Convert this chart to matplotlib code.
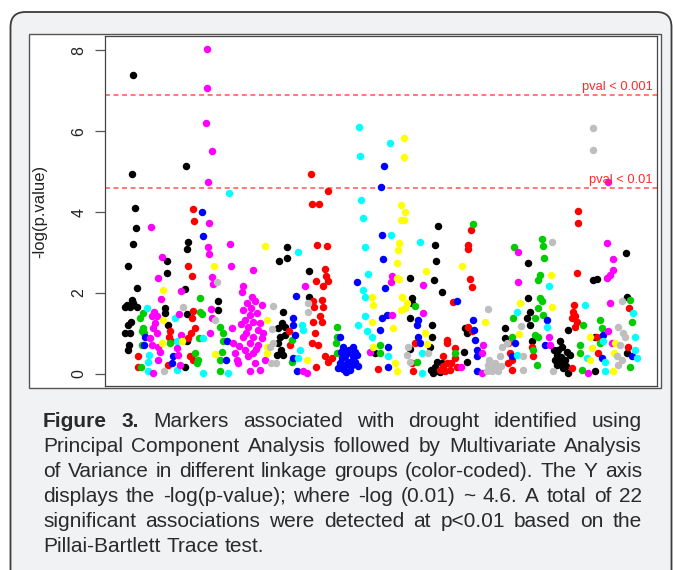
import matplotlib
matplotlib.use("Agg")
import matplotlib.pyplot as plt
from matplotlib import font_manager
from matplotlib.patches import FancyBboxPatch, Rectangle
from matplotlib.transforms import IdentityTransform

# ---------------- data: marker position along genome, -log(p-value) ----------------
black_pos = [28, 27, 81, 30, 31, 28, 23, 32, 27, 22, 20, 25, 32, 28, 26, 23, 20, 25, 24, 23,
             62, 62, 83, 82, 80, 60, 60, 63, 82, 113, 113, 80, 82,
             182, 182, 174, 204, 204, 178, 177, 173, 180, 175, 180, 173, 176, 178, 172,
             333, 330, 331, 329, 337, 305, 307, 307, 305, 327, 327, 325, 305, 360, 362, 359, 362,
             400, 400, 330, 333, 328, 337, 332, 270, 335, 331, 326,
             423, 521, 488, 492, 423, 425, 422, 425, 427, 463, 455, 453, 457, 452, 450, 455, 460,
             465, 463, 452, 490, 490, 522, 522, 458, 462, 449, 456, 461]
black_val = [7.38, 4.94, 5.13, 4.10, 3.61, 3.20, 2.67, 2.13, 1.83, 1.70, 1.66, 1.66, 1.65, 1.74,
             1.27, 1.21, 1.00, 1.02, 0.72, 0.59,
             2.79, 2.50, 3.27, 3.08, 2.10, 1.64, 1.50, 1.21, 1.48, 1.79, 1.58, 0.18, 0.82,
             3.13, 2.87, 2.80, 2.54, 1.89, 1.54, 1.25, 1.13, 1.17, 0.92, 0.96, 0.76, 0.59, 0.47, 0.47,
             3.65, 3.19, 2.79, 2.32, 2.02, 2.36, 1.87, 1.74, 1.39, 1.21, 0.92, 0.67, 0.61, 1.13, 1.00,
             0.53, 0.30, 1.13, 0.88, 0.18, 0.06, 0.02, 0.26, 0.30, 0.51, 0.05, 0.12, 0.10,
             2.75, 2.98, 2.32, 2.34, 1.87, 1.54, 1.37, 1.21, 0.80, 1.09, 0.80, 0.59, 0.67, 0.47, 0.35,
             0.26, 0.35, 0.47, 0.03, 0.22, 0.92, 0.06, 1.91, 0.51, 0.15, 0.55, 0.60, 0.42, 0.20]

red_pos = [206, 223, 88, 89, 83, 87, 88, 87, 90, 86, 65, 64, 66, 33, 33, 63, 85, 88, 83,
           207, 214, 212, 222, 220, 221, 211, 223, 218, 208, 209, 217, 218, 215, 217, 208, 210,
           207, 213, 220, 223, 211, 227, 184, 185,
           366, 363, 363, 365, 367, 348, 342, 342, 350, 338, 342, 345, 340, 335, 352, 307, 308,
           363, 367, 273, 310, 403, 405, 403, 346, 350, 338,
           473, 473, 472, 469, 468, 470, 467, 472, 470, 524, 523, 427, 428, 407, 407, 467, 493, 492]
red_val = [4.94, 4.52, 4.07, 3.79, 2.67, 2.42, 1.56, 1.37, 1.13, 1.00, 1.05, 0.92, 0.80, 0.43,
           0.18, 0.22, 0.43, 0.35, 0.88,
           4.21, 4.21, 3.19, 3.16, 2.58, 2.42, 2.30, 2.30, 2.16, 1.79, 1.66, 1.83, 1.66, 1.42, 1.29,
           1.29, 1.00, 0.76, 0.72, 0.43, 0.30, 0.16, 0.39, 1.05, 0.72,
           3.56, 3.19, 3.08, 2.34, 2.14, 1.77, 0.84, 0.76, 0.63, 0.43, 0.26, 0.10, 0.06, 0.10, 0.18,
           0.26, 0.06, 1.17, 1.05, 0.12, 0.76, 0.76, 0.51, 0.26, 0.28, 0.40, 0.20,
           4.03, 3.72, 2.49, 1.70, 1.54, 1.42, 1.37, 1.29, 1.17, 1.62, 0.67, 0.67, 0.43, 0.35, 0.10,
           0.14, 0.51, 0.92]

green_pos = [35, 38, 38, 37, 39, 37, 36, 95, 97, 95, 65, 90, 93, 92, 94, 115, 118, 117, 115, 115, 118,
             232, 232, 231, 232, 187, 187,
             368, 310, 350, 312, 275, 275, 407,
             409, 437, 438, 439, 435, 433, 435, 437, 433, 438, 430, 408, 430, 433, 428, 432,
             478, 495, 497, 495, 475, 475, 477, 525, 527, 525]
green_val = [1.37, 1.51, 1.13, 1.05, 1.00, 0.72, 0.18, 1.87, 1.48, 1.54, 0.76, 0.51, 0.35, 0.26, 0.88,
             1.17, 0.80, 0.55, 0.35, 0.06, 1.00,
             1.17, 0.92, 0.76, 0.51, 0.84, 0.30,
             3.70, 1.68, 0.51, 0.30, 0.72, 0.51, 0.92,
             3.14, 3.33, 3.16, 2.87, 2.44, 2.32, 1.87, 1.79, 1.62, 1.46, 1.37, 1.39, 0.96, 0.92, 0.59,
             0.22, 1.21, 1.33, 1.13, 0.76, 0.72, 0.51, 0.10, 1.83, 1.29, 0.18]

blue_pos = [279, 276, 97, 98, 40, 39, 68, 67, 121, 122,
            191, 252, 188, 188, 190, 235, 238, 248, 252, 242, 243, 240, 237, 245, 248, 235, 192, 188,
            240, 246, 250, 238, 236, 244, 250, 241, 247, 233, 253,
            277, 278, 280, 282, 277, 275, 352, 313, 312, 313, 315, 283, 283, 368, 369, 370, 372, 372,
            372, 407,
            442, 410, 440, 498, 497, 527]
blue_val = [5.14, 4.62, 4.00, 3.41, 0.90, 0.72, 0.44, 0.26, 0.35, 0.81,
            1.93, 2.26, 1.37, 1.21, 0.96, 0.92, 0.67, 0.67, 0.47, 0.51, 0.30, 0.22, 0.39, 0.10, 0.43,
            0.26, 0.06, 0.39, 0.45, 0.20, 0.30, 0.12, 0.55, 0.60, 0.55, 0.05, 0.32, 0.15, 0.20,
            3.42, 2.83, 2.12, 1.46, 1.37, 1.09, 1.79, 1.33, 1.21, 0.92, 0.76, 0.67, 0.16, 1.33, 1.09,
            0.84, 0.59, 0.43, 0.06, 0.43,
            1.33, 0.76, 0.72, 0.96, 0.39, 0.43]

cyan_pos = [124, 254, 255, 285, 256, 42, 70, 44, 43, 43, 72, 98, 98, 123, 72,
            193, 258, 260, 263, 258, 260, 197, 198, 195, 193, 253, 260, 262, 267,
            286, 315, 283, 317, 317,
            444, 480, 412, 442, 528, 530, 530, 532, 500, 500, 482, 412, 498]
cyan_val = [4.47, 6.10, 5.38, 5.70, 4.30, 1.64, 1.37, 0.47, 0.30, 0.06, 0.80, 0.88, 0.03, 0.03, 0.10,
            3.00, 3.84, 3.14, 2.46, 2.07, 1.91, 1.21, 1.09, 0.59, 0.39, 1.21, 1.42, 1.05, 0.92,
            3.42, 3.27, 0.43, 0.51, 0.02,
            2.16, 1.69, 1.54, 1.17, 1.50, 0.90, 0.59, 0.39, 0.30, 0.06, 0.39, 0.47, 0.80]

magenta_pos = [102, 102, 101, 107, 103, 503,
               46, 104, 125, 103, 104, 57, 126, 53, 107, 108, 76, 56, 49, 47, 52, 50, 48, 52, 45, 47,
               53, 55, 53, 48, 74, 76, 72, 73, 75, 106, 107, 105, 127, 128, 130, 132, 133,
               138, 137, 148, 147, 150, 157, 142, 138, 145, 152, 140, 148, 155, 143, 153, 158, 138, 148,
               157, 145, 153, 140, 148, 143, 150, 145, 155, 200, 198, 202, 265,
               141, 151, 136, 160, 146, 134,
               287, 286, 318, 318, 287, 378, 377, 377, 356,
               413, 413, 502, 508, 508, 505, 502, 505, 503, 444, 445, 483, 507]
magenta_val = [8.02, 7.06, 6.20, 5.50, 4.74, 4.74,
               3.64, 3.74, 3.21, 3.13, 2.96, 2.88, 2.67, 2.36, 2.40, 2.21, 2.06, 1.85, 1.54, 1.42, 1.42,
               1.25, 1.13, 1.00, 0.88, 0.72, 0.67, 0.55, 0.35, 0.03, 1.48, 0.96, 0.63, 0.47, 0.22,
               1.60, 1.37, 1.00, 1.13, 0.76, 0.51, 0.35, 0.26,
               2.16, 2.03, 2.57, 1.91, 1.79, 1.70, 1.74, 1.58, 1.46, 1.50, 1.33, 1.29, 1.25, 1.17, 1.09,
               1.00, 0.92, 0.92, 0.88, 0.76, 0.72, 0.59, 0.51, 0.43, 0.26, 0.06, 0.10, 2.16, 0.06, 0.03,
               0.55,
               1.02, 0.62, 1.22, 0.35, 1.62, 0.70,
               2.42, 2.26, 2.20, 1.50, 1.46, 0.72, 0.51, 0.02, 0.18,
               3.02, 2.26, 3.23, 2.84, 2.57, 2.44, 2.36, 1.74, 1.05, 0.92, 0.72, 0.03, 0.77]

yellow_pos = [299, 299, 58, 58, 57, 77, 109, 110,
              160, 162, 162, 162, 202, 267, 268, 267, 268,
              296, 300, 296, 299, 294, 293, 292, 292, 294, 321, 357, 297, 302, 300, 296, 288, 290, 292,
              320, 322, 380,
              446, 415, 447, 414, 485, 487, 485, 508, 510, 509]
yellow_val = [5.83, 5.35, 2.07, 1.33, 0.76, 0.81, 2.67, 0.49,
              3.16, 1.32, 0.67, 0.51, 0.35, 1.91, 1.70, 1.29, 0.67,
              4.17, 4.00, 3.80, 3.80, 3.23, 3.06, 2.73, 2.36, 2.34, 2.54, 2.67, 1.89, 1.74, 1.62, 1.58,
              1.13, 0.26, 0.06, 1.02, 0.74, 1.27,
              2.44, 1.74, 1.66, 0.98, 0.92, 0.63, 0.35, 0.06, 0.76, 0.51]

gray_pos = [488, 488, 112, 78, 110, 59,
            168, 167, 168, 165, 166, 171, 203, 203,
            383, 323, 303, 302, 305, 383, 388, 390, 387, 393, 382, 395, 397, 402,
            385, 391, 384, 396,
            447, 416, 418, 418, 448, 517, 513, 518, 520, 515, 512, 517, 513]
gray_val = [6.07, 5.53, 2.26, 1.66, 1.33, 0.06,
            1.68, 1.10, 0.76, 0.67, 0.28, 0.26, 1.74, 1.54,
            1.60, 0.51, 0.67, 0.47, 0.30, 0.22, 0.18, 0.26, 0.06, 0.06, 0.06, 0.43, 0.67, 0.76,
            0.12, 0.14, 0.35, 0.20,
            3.27, 1.19, 0.43, 0.10, 0.06, 1.79, 1.17, 1.00, 0.92, 0.72, 0.43, 0.35, 0.22]

thresholds = [6.9, 4.6]
threshold_labels = ["pval < 0.001", "pval < 0.01"]
yticks = [0, 2, 4, 6, 8]

caption_lines = [
    "Figure 3. Markers associated with drought identified using",
    "Principal Component Analysis followed by Multivariate Analysis",
    "of Variance in different linkage groups (color-coded). The Y axis",
    "displays the -log(p-value); where -log (0.01) ~ 4.6. A total of 22",
    "significant associations were detected at p<0.01 based on the",
    "Pillai-Bartlett Trace test.",
]

# ---------------- fonts ----------------
names = {f.name for f in font_manager.fontManager.ttflist}
base = "Liberation Sans" if "Liberation Sans" in names else "DejaVu Sans"
narrow = "Liberation Sans Narrow" if "Liberation Sans Narrow" in names else base
plt.rcParams["font.family"] = [base, "DejaVu Sans"]

W, H = 673, 570
fig = plt.figure(figsize=(W / 100, H / 100), dpi=100)
fig.patch.set_facecolor("white")

# outer rounded card
card = FancyBboxPatch((10.5, -40), 661, 570 - 12 + 40,
                      boxstyle="round,pad=0,rounding_size=15",
                      transform=IdentityTransform(), facecolor="#f1f2f4",
                      edgecolor="#3c3c3c", linewidth=1.3, zorder=-3)
fig.patches.append(card)
# white image panel
panel = Rectangle((28.5, H - 388), 632, 354, transform=IdentityTransform(),
                  facecolor="white", edgecolor="#555555", linewidth=1.0, zorder=-2)
fig.patches.append(panel)

# ---------------- axes ----------------
ax = fig.add_axes([105 / W, (H - 386) / H, 552 / W, 350 / H])
ax.set_zorder(1)
ax.set_xlim(0, 552)
ax.set_ylim(-0.3, 8.35)

groups = [
    (black_pos, black_val, "#000000"),
    (red_pos, red_val, "#FF0000"),
    (green_pos, green_val, "#00CD00"),
    (blue_pos, blue_val, "#0000FF"),
    (cyan_pos, cyan_val, "#00FFFF"),
    (magenta_pos, magenta_val, "#FF00FF"),
    (yellow_pos, yellow_val, "#FFFF00"),
    (gray_pos, gray_val, "#BEBEBE"),
]
for xs, ys, c in groups:
    ax.scatter(xs, ys, s=29, c=c, linewidths=0, zorder=3)

for thr, lab in zip(thresholds, threshold_labels):
    ax.axhline(thr, color="#ff5252", linewidth=1.1, linestyle=(0, (3.2, 2.4)), zorder=2)
    ax.text(548, thr + 0.2, lab, color="#ff2a2a", fontsize=9.3, family=[narrow, "DejaVu Sans"],
            ha="right", va="center", zorder=4)

ax.set_xticks([])
ax.set_yticks(yticks)
ax.set_yticklabels([str(t) for t in yticks], rotation=90, va="center",
                   fontsize=11.5, family=[narrow, "DejaVu Sans"])
ax.tick_params(axis="y", length=7.2, width=0.9, pad=6, color="#555555", labelcolor="#222222")
for sp in ax.spines.values():
    sp.set_color("#444444")
    sp.set_linewidth(0.9)

ax.set_ylabel("-log(p.value)", fontsize=12, color="#222222", va="center")
ax.yaxis.set_label_coords((40 - 105) / 552, 0.5)

# ---------------- justified caption ----------------
renderer = fig.canvas.get_renderer()
left, right = 43, 642
baselines = [427, 452, 477, 502, 527, 552]
cap_size = 15
for i, (line, yb) in enumerate(zip(caption_lines, baselines)):
    words = line.split(" ")
    texts = []
    for j, w in enumerate(words):
        bold = (i == 0 and j < 2)
        t = fig.text(0, H - yb, w, transform=IdentityTransform(), fontsize=cap_size,
                     fontweight="bold" if bold else "normal", color="#2a2a2a",
                     ha="left", va="baseline")
        texts.append(t)
    widths = [t.get_window_extent(renderer).width for t in texts]
    if i < len(caption_lines) - 1:
        gap = (right - left - sum(widths)) / (len(words) - 1)
    else:
        gap = cap_size * 100 / 72 * 0.278
    x = left
    for t, wdt in zip(texts, widths):
        t.set_x(x)
        x += wdt + gap

fig.savefig("out.png", dpi=100, facecolor=fig.get_facecolor())
